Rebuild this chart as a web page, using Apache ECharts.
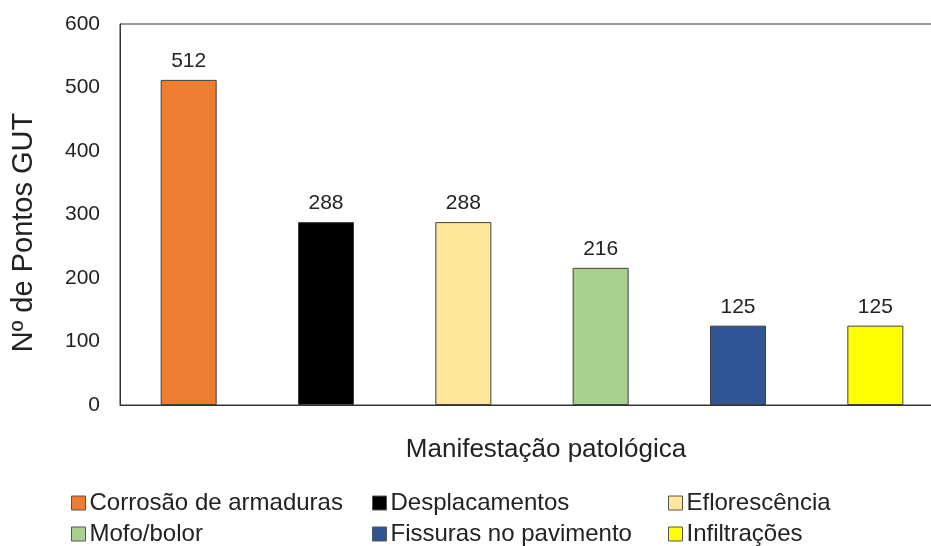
<!DOCTYPE html>
<html>
<head>
<meta charset="utf-8">
<script src="https://cdn.jsdelivr.net/npm/echarts@6/dist/echarts.min.js"></script>
<style>
  html, body { margin: 0; padding: 0; background: #fff; }
  #chart { width: 931px; height: 546px; }
</style>
</head>
<body>
<div id="chart"></div>
<script>
// categorias (uma barra por manifestação)
const categories = [
  'Corrosão de armaduras',
  'Desplacamentos',
  'Eflorescência',
  'Mofo/bolor',
  'Fissuras no pavimento',
  'Infiltrações'
];
// pontos GUT
const pontosGUT = [512, 288, 288, 216, 125, 125];
const barColors = ['#ED7D31', '#000000', '#FFE699', '#A9D18E', '#2F5597', '#FFFF00'];
const yTicks = [0, 100, 200, 300, 400, 500, 600];

const font = '"Liberation Sans", Arial, sans-serif';
const textColor = '#222';

const chart = echarts.init(document.getElementById('chart'));

// uma série por categoria para gerar a legenda
const series = categories.map((name, i) => ({
  name,
  type: 'bar',
  stack: 'gut',
  barWidth: 56,
  data: categories.map((_, j) => (j === i ? pontosGUT[i] : '-')),
  itemStyle: {
    color: barColors[i],
    borderColor: '#404040',
    borderWidth: 1
  },
  label: {
    show: true,
    position: 'top',
    distance: 8,
    fontFamily: font,
    fontSize: 21,
    color: textColor
  }
}));

// legenda em 3 colunas x 2 linhas
const legendCols = [71, 372, 668];
const legendRows = [491, 522];
const legends = categories.map((name, i) => ({
  data: [name],
  left: legendCols[i % 3],
  top: legendRows[Math.floor(i / 3)],
  padding: 0,
  itemWidth: 14,
  itemHeight: 14,
  itemGap: 0,
  icon: 'rect',
  itemStyle: { borderColor: '#555', borderWidth: 1 },
  textStyle: { fontFamily: font, fontSize: 24, color: textColor, padding: [0, 0, 0, -1] }
}));

const option = {
  animation: false,
  grid: {
    left: 120,
    top: 24,
    width: 824,
    bottom: 141,
    outerBoundsMode: 'none',
    show: true,
    borderColor: '#333',
    borderWidth: 1
  },
  legend: legends,
  xAxis: {
    type: 'category',
    data: categories,
    name: 'Manifestação patológica',
    nameLocation: 'middle',
    nameGap: 32,
    nameTextStyle: { fontFamily: font, fontSize: 26, color: textColor, padding: [0, 0, 0, 28] },
    axisLine: { lineStyle: { color: '#333', width: 1 } },
    axisTick: { show: false },
    axisLabel: { show: false }
  },
  yAxis: {
    type: 'value',
    min: yTicks[0],
    max: yTicks[yTicks.length - 1],
    interval: 100,
    name: 'Nº de Pontos GUT',
    nameLocation: 'middle',
    nameRotate: 90,
    nameGap: 82,
    nameTextStyle: { fontFamily: font, fontSize: 29, color: textColor, padding: [0, 36, 0, 0] },
    axisLine: { show: true, lineStyle: { color: '#333', width: 1 } },
    axisTick: { show: false },
    splitLine: { show: false },
    axisLabel: { fontFamily: font, fontSize: 21, color: textColor, margin: 20 }
  },
  series
};

chart.setOption(option);
</script>
</body>
</html>
